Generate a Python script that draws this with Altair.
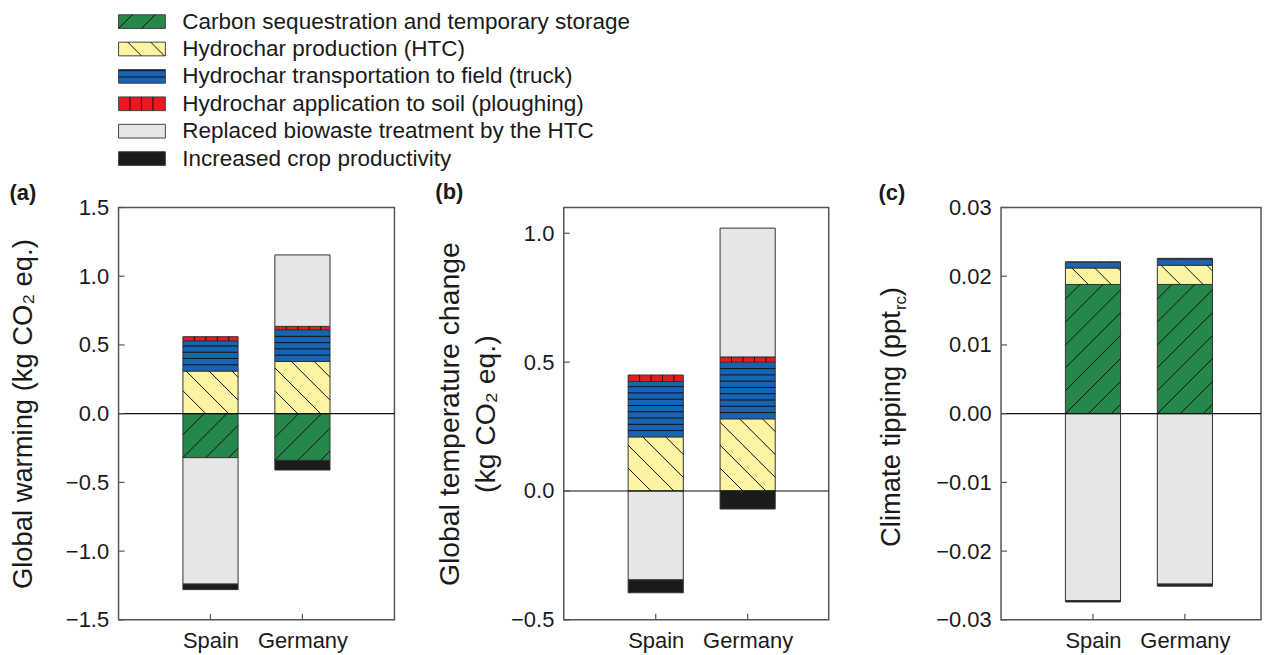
import altair as alt
import pandas as pd
import numpy as np

# ---------------- data ----------------
countries = ["Spain", "Germany"]
categories = [
    "Carbon sequestration and temporary storage",
    "Hydrochar production (HTC)",
    "Hydrochar transportation to field (truck)",
    "Hydrochar application to soil (ploughing)",
    "Replaced biowaste treatment by the HTC",
    "Increased crop productivity",
]
colors = ["#25874b", "#fbf4a3", "#1764b4", "#e81a21", "#e6e6e6", "#1b1b1b"]
patterns = ["/", "\\", "-", "|", "", ""]

# (a) Global warming (kg CO2 eq.)
gw_spain = [-0.32, 0.31, 0.22, 0.03, -0.92, -0.04]
gw_germany = [-0.34, 0.38, 0.23, 0.025, 0.52, -0.07]
# (b) Global temperature change (kg CO2 eq.)
gtc_spain = [0.0, 0.21, 0.215, 0.025, -0.345, -0.05]
gtc_germany = [0.0, 0.28, 0.22, 0.02, 0.50, -0.07]
# (c) Climate tipping (ppt_rc)
ct_spain = [0.0188, 0.0024, 0.0008, 0.0001, -0.0272, -0.0002]
ct_germany = [0.0188, 0.0028, 0.0009, 0.0001, -0.0248, -0.0003]

gw_ticks = [-1.5, -1.0, -0.5, 0.0, 0.5, 1.0, 1.5]
gtc_ticks = [-0.5, 0.0, 0.5, 1.0]
ct_ticks = [-0.03, -0.02, -0.01, 0.0, 0.01, 0.02, 0.03]

# ---------------- style ----------------
FONT = "Liberation Sans"
TXT = "#1a1a1a"
PLOT_H = 414
STEP = 92.3        # px between bar centres
HALF = 0.3         # half bar width, in category units
FRAME = "#555555"
TICK_FS = 22
LEG_FS = 22.6
LEG_ROW = 27.5
LEG_SW = 47
LEG_W = 560
LEG_TOP = 0.45     # row-units of space above the first legend row


def hatch_segments(pattern, xl, xr, ya, yb, kx, ky):
    lo, hi = min(ya, yb), max(ya, yb)
    W = (xr - xl) * kx
    H = (hi - lo) * ky
    segs = []
    if pattern == "/":
        step = 23.0
        for k in range(int(np.floor(-H / step)), int(np.ceil(W / step)) + 1):
            c = k * step
            u0, u1 = max(0.0, c), min(W, H + c)
            if u1 - u0 > 1:
                segs.append((u0, u0 - c, u1, u1 - c))
    elif pattern == "\\":
        step = 23.0
        for k in range(1, int((W + H) / step) + 1):
            c = k * step
            u0, u1 = max(0.0, c - H), min(W, c)
            if u1 - u0 > 1:
                segs.append((u0, c - u0, u1, c - u1))
    elif pattern == "-":
        step = 6.3
        v = step
        while v < H - 1:
            segs.append((0.0, v, W, v))
            v += step
    elif pattern == "|":
        step = 11.5
        u = step
        while u < W - 1:
            segs.append((u, 0.0, u, H))
            u += step
    return [(xl + a / kx, lo + b / ky, xl + c / kx, lo + d / ky) for a, b, c, d in segs]


def stack(values_by_country):
    rows = []
    for ci, (country, vals) in enumerate(zip(countries, values_by_country)):
        pos = neg = 0.0
        for k, v in enumerate(vals):
            if v == 0:
                continue
            if v > 0:
                y0, y1 = pos, pos + v
                pos += v
            else:
                y0, y1 = neg, neg + v
                neg += v
            rows.append(dict(country=country, xl=ci + 1 - HALF, xr=ci + 1 + HALF,
                             y0=y0, y1=y1, cat=categories[k], k=k))
    return pd.DataFrame(rows)


fill_scale = alt.Scale(domain=categories, range=colors)
names_js = "[" + ",".join("'" + c + "'" for c in countries) + "]"


def panel(label, values, ymin, ymax, ticks, fmt, width, ytitle, title_fs, title_pad,
          title_offset, manual_title=None):
    df = stack(values)
    kx = STEP
    ky = PLOT_H / (ymax - ymin)
    hrows = []
    for _, r in df.iterrows():
        for s in hatch_segments(patterns[r.k], r.xl, r.xr, r.y0, r.y1, kx, ky):
            hrows.append(dict(hx=s[0], hy=s[1], hx2=s[2], hy2=s[3]))
    hdf = pd.DataFrame(hrows)

    xs = alt.Scale(domain=[0, width / STEP], nice=False, zero=False)
    ys = alt.Scale(domain=[ymin, ymax], nice=False, zero=False)

    yaxis = alt.Axis(values=ticks, format=fmt, ticks=False, domain=False, grid=False,
                     labelFont=FONT, labelFontSize=TICK_FS, labelColor=TXT, labelPadding=10,
                     titleFont=FONT, titleFontSize=title_fs, titleFontWeight="normal",
                     titleColor=TXT, titlePadding=title_pad, titleLineHeight=title_fs + 8)
    xaxis = alt.Axis(values=[i + 1 for i in range(len(countries))],
                     labelExpr=names_js + "[datum.value - 1]",
                     ticks=False, domain=False, grid=False, labelFont=FONT,
                     labelFontSize=TICK_FS, labelColor=TXT, labelPadding=11)

    bars = alt.Chart(df).mark_rect(stroke="#333333", strokeWidth=1).encode(
        x=alt.X("xl:Q", scale=xs, axis=xaxis, title=None),
        x2="xr:Q",
        y=alt.Y("y0:Q", scale=ys, axis=yaxis, title=ytitle),
        y2="y1:Q",
        fill=alt.Fill("cat:N", scale=fill_scale, legend=None),
    )
    hatch = alt.Chart(hdf).mark_rule(color="#111111", strokeWidth=1).encode(
        x="hx:Q", y="hy:Q", x2="hx2:Q", y2="hy2:Q")
    zero = alt.Chart(pd.DataFrame({"z": [0.0]})).mark_rule(color="#111111", strokeWidth=1.2).encode(
        y="z:Q", x=alt.value(0), x2=alt.value(width))
    yt = alt.Chart(pd.DataFrame({"t": ticks})).mark_rule(color=FRAME, strokeWidth=1.2).encode(
        y="t:Q", x=alt.value(0), x2=alt.value(6))
    xt = alt.Chart(pd.DataFrame({"c": [i + 1 for i in range(len(countries))]})).mark_rule(
        color=FRAME, strokeWidth=1.2).encode(
        x="c:Q", y=alt.value(PLOT_H), y2=alt.value(PLOT_H - 6))
    layers = [bars, hatch, zero, yt, xt]

    if manual_title is not None:
        main, sub, close, cy, fs = manual_title
        t1 = alt.Chart(pd.DataFrame({"s": [main]})).mark_text(
            angle=270, align="right", baseline="alphabetic", font=FONT,
            fontSize=fs, color=TXT).encode(
            text="s:N", x=alt.value(-101), y=alt.value(cy))
        t2 = alt.Chart(pd.DataFrame({"s": [sub]})).mark_text(
            angle=270, align="left", baseline="alphabetic", font=FONT,
            fontSize=17, color=TXT).encode(
            text="s:N", x=alt.value(-95), y=alt.value(cy - 1))
        t3 = alt.Chart(pd.DataFrame({"s": [close]})).mark_text(
            angle=270, align="left", baseline="alphabetic", font=FONT,
            fontSize=fs, color=TXT).encode(
            text="s:N", x=alt.value(-101), y=alt.value(cy - 15))
        layers += [t1, t2, t3]

    return alt.layer(*layers).properties(
        width=width, height=PLOT_H,
        title=alt.TitleParams(label, anchor="start", frame="bounds", font=FONT,
                              fontSize=22, fontWeight="bold", color=TXT,
                              offset=title_offset),
        view=alt.ViewBackground(stroke=FRAME, strokeWidth=1.5),
    )


pa = panel("(a)", [gw_spain, gw_germany], -1.5, 1.5, gw_ticks, ".1f", 277,
           "Global warming (kg CO\u2082 eq.)", 27.5, 28, -8)
pb = panel("(b)", [gtc_spain, gtc_germany], -0.5, 1.1, gtc_ticks, ".1f", 266,
           ["Global temperature change", "(kg CO\u2082 eq.)"], 28.5, 10, 4)
pc = panel("(c)", [ct_spain, ct_germany], -0.03, 0.03, ct_ticks, ".2f", 261,
           None, 27, 10, -8, manual_title=("Climate tipping (ppt", "rc", ")", 104, 27.5))

# ---------------- legend ----------------
leg = pd.DataFrame({"cat": categories, "row": list(range(len(categories)))})
leg["ypos"] = -leg["row"]
leg["r0"] = leg["ypos"] - 0.25
leg["r1"] = leg["ypos"] + 0.25
leg["x0"] = 0.0
leg["x1"] = 1.0
lrows = []
for _, r in leg.iterrows():
    for s in hatch_segments(patterns[r.row], 0.0, 1.0, r.r0, r.r1, LEG_SW, LEG_ROW):
        lrows.append(dict(hx=s[0], hy=s[1], hx2=s[2], hy2=s[3]))
lh = pd.DataFrame(lrows)

lxs = alt.Scale(domain=[0.0, LEG_W / LEG_SW], nice=False, zero=False)
lys = alt.Scale(domain=[-(len(categories) - LEG_TOP), LEG_TOP], nice=False, zero=False)

sw = alt.Chart(leg).mark_rect(stroke="#444444", strokeWidth=1).encode(
    x=alt.X("x0:Q", scale=lxs, axis=None), x2="x1:Q",
    y=alt.Y("r0:Q", scale=lys, axis=None), y2="r1:Q",
    fill=alt.Fill("cat:N", scale=fill_scale, legend=None))
swh = alt.Chart(lh).mark_rule(color="#111111", strokeWidth=1).encode(
    x=alt.X("hx:Q", axis=None), x2="hx2:Q", y=alt.Y("hy:Q", axis=None), y2="hy2:Q")
ltxt = alt.Chart(leg).mark_text(align="left", baseline="middle", font=FONT,
                                fontSize=LEG_FS, color=TXT).encode(
    x=alt.value(LEG_SW + 17), y=alt.Y("ypos:Q", axis=None), text="cat:N")

legend = alt.layer(sw, swh, ltxt).properties(
    width=LEG_W, height=len(categories) * LEG_ROW,
    view=alt.ViewBackground(strokeOpacity=0))

chart = alt.vconcat(
    legend,
    alt.hconcat(alt.hconcat(pa, pb, spacing=38), pc, spacing=47),
    spacing=6,
).properties(padding={"left": 0, "top": 0, "right": 0, "bottom": 0})

chart.save("out.html", embed_options={"renderer": "svg", "actions": False})
